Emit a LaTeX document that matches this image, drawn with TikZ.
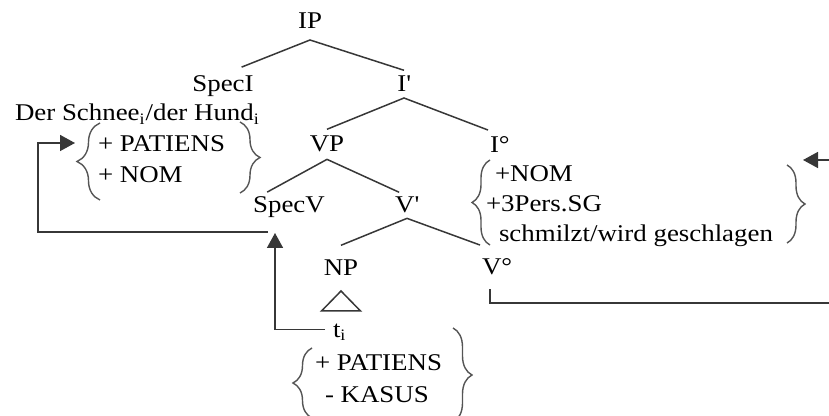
\documentclass[tikz,border=0pt]{standalone}
\usepackage{fontspec}
\setmainfont[FakeStretch=1.12]{Liberation Serif}
\usetikzlibrary{arrows.meta,decorations.pathreplacing}
\definecolor{linec}{RGB}{55,55,55}
\tikzset{
  lbl/.style={inner sep=0pt, outer xsep=0pt, anchor=base, font=\fontsize{12pt}{14pt}\selectfont},
  tree/.style={draw=linec, line width=0.75pt},
  conn/.style={draw=linec, line width=0.8pt},
  arr/.style={-{Triangle[length=7.5pt,width=8pt]}},
  brc/.style={draw=linec!85, line width=0.7pt, decorate, decoration={brace, amplitude=#1}}
}
\begin{document}
\begin{tikzpicture}[x=0.5pt,y=-0.5pt]
\useasboundingbox (0,0) rectangle (829,416);
\clip (0,0) rectangle (829,416);
% tree labels
\node[lbl, outer ysep=5.5pt] (ip) at (310,29) {IP};
\node[lbl, outer ysep=4.5pt] (speci) at (223,92) {SpecI};
\node[lbl, outer ysep=3pt] (i1) at (404,92) {I\textquotesingle};
\node[lbl, outer ysep=3.5pt] (vp) at (327,152) {VP};
\node[lbl, outer ysep=3.5pt, anchor=base west] (i0) at (490,153) {I°};
\node[lbl, outer ysep=2.5pt] (specv) at (289,213) {SpecV};
\node[lbl, outer ysep=2.5pt] (v1) at (407,213) {V\textquotesingle};
\node[lbl, outer ysep=7.5pt] (np) at (341,276) {NP};
\node[lbl, outer ysep=7pt, anchor=base west] (v0) at (482,275) {V°};
\node[lbl, anchor=base west] (ti) at (333,337) {t\textsubscript{i}};
% feature texts
\node[lbl, anchor=base west] (subj) at (15,121) {Der Schnee\textsubscript{i}/der Hund\textsubscript{i}};
\node[lbl, anchor=base west] (f1a) at (98,152) {+ PATIENS};
\node[lbl, anchor=base west] (f1b) at (98,183) {+ NOM};
\node[lbl, anchor=base west] (f2a) at (495,182) {+NOM};
\node[lbl, anchor=base west] (f2b) at (486,212) {+3Pers.SG};
\node[lbl, anchor=base west] (f2c) at (499,242) {schmilzt/wird geschlagen};
\node[lbl, anchor=base west] (f3a) at (315,371) {+ PATIENS};
\node[lbl, anchor=base west] (f3b) at (325,402) {- KASUS};
% tree branches
\draw[tree] ([xshift=-6pt]speci.north east) -- (ip.south) -- (i1.north);
\draw[tree] (vp.north) -- (i1.south) -- ([xshift=-1pt]i0.north west);
\draw[tree] ([xshift=7pt]specv.north west) -- (vp.south) -- ([xshift=2pt]v1.north west);
\draw[tree] (np.north) -- (v1.south) -- ([xshift=-1pt]v0.north west);
\draw[tree] (np.south) -- ++(-19.5,20) -- ++(39,0) -- cycle;
% braces
\coordinate (b1t) at (100,123); \coordinate (b1b) at (100,200);
\coordinate (b2t) at (240,122); \coordinate (b2b) at (240,193);
\coordinate (b3t) at (490,160); \coordinate (b3b) at (490,245);
\coordinate (b4t) at (787,165); \coordinate (b4b) at (787,243);
\coordinate (b5t) at (312,348); \coordinate (b5b) at (312,418);
\coordinate (b6t) at (453,328); \coordinate (b6b) at (453,422);
\draw[brc=11.5pt] (b1b) -- (b1t);
\draw[brc=10pt] (b2t) -- (b2b);
\draw[brc=9pt] (b3b) -- (b3t);
\draw[brc=9pt] (b4t) -- (b4b);
\draw[brc=9.5pt] (b5b) -- (b5t);
\draw[brc=9.5pt] (b6t) -- (b6b);
% movement connectors
\coordinate (fb) at (268,232);
\coordinate (lc) at (38,232);
\coordinate (b1in) at (75,143);
\coordinate (sv) at (275,233);
\coordinate (rc) at (845,303);
\coordinate (i0in) at (803,160);
\draw[conn, arr] (fb) -- (lc) |- (b1in);
\draw[conn, arr] ([xshift=-4pt,yshift=1.5pt]ti.mid west) -| (sv);
\draw[conn, arr] ([xshift=4pt]v0.south west) |- (rc) |- (i0in);
\end{tikzpicture}
\end{document}
